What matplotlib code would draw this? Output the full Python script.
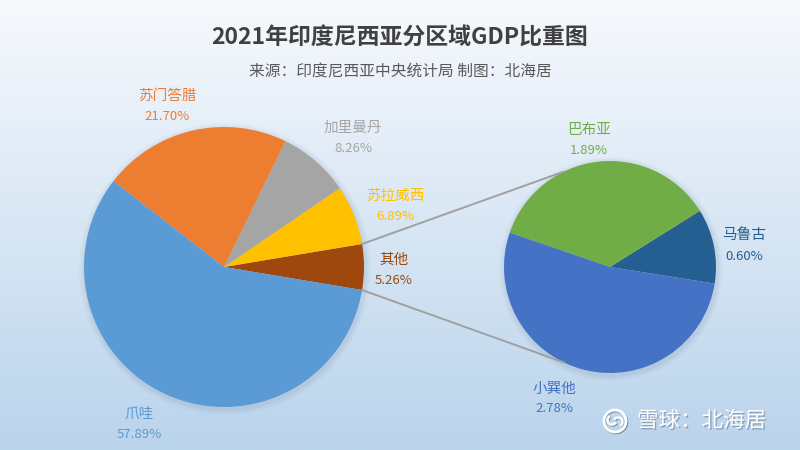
import matplotlib.pyplot as plt
import matplotlib.patheffects as pe
from matplotlib.patches import Circle, Arc
import numpy as np

plt.rcParams['font.family'] = ['Noto Sans CJK SC', 'DejaVu Sans']

# main pie, counterclockwise from the "其他" wedge
main_names = ["其他", "苏拉威西", "加里曼丹", "苏门答腊", "爪哇"]
main_values = [5.26, 6.89, 8.26, 21.70, 57.89]
main_colors = ["#9E480E", "#FFC000", "#A5A5A5", "#ED7D31", "#5B9BD5"]

# breakdown of "其他"
sub_names = ["马鲁古", "巴布亚", "小巽他"]
sub_values = [0.60, 1.89, 2.78]
sub_colors = ["#255E91", "#70AD47", "#4472C4"]

# label centres in pixels (x, y from top)
main_label_pos = [(394, 270), (395, 206), (353, 138), (167, 106), (139, 424)]
sub_label_pos = [(744, 246), (589, 140), (554, 399)]

W, H = 800, 450
fig = plt.figure(figsize=(8, 4.5), dpi=100)
ax = fig.add_axes([0, 0, 1, 1])

# background gradient
top = np.array([0xF7, 0xF9, 0xFD]) / 255
bot = np.array([0xBA, 0xD4, 0xEC]) / 255
t = np.linspace(0, 1, 256)[:, None]
grad = top + (bot - top) * t
ax.imshow(grad[:, None, :], extent=[0, W, 0, H], aspect='auto', zorder=0)

c1, r1 = (224, H - 267), 140
c2, r2 = (610, H - 267), 106

# soft shadows
for c, r in [(c1, r1), (c2, r2)]:
    for k, a in [(6, 0.04), (4, 0.06), (2, 0.08)]:
        ax.add_patch(Circle((c[0] + 1, c[1] - 2), r + k, color="#6b7f99", alpha=a, lw=0, zorder=1))

half = main_values[0] / sum(main_values) * 180
ax.pie(main_values, colors=main_colors, startangle=-half, center=c1, radius=r1,
       wedgeprops=dict(linewidth=0, zorder=2), frame=True)
ax.pie(sub_values, colors=sub_colors, startangle=-9, center=c2, radius=r2,
       wedgeprops=dict(linewidth=0, zorder=2), frame=True)

# connector lines
for s in (1, -1):
    a1 = np.radians(s * half)
    a2 = np.radians(s * 116)
    ax.plot([c1[0] + r1 * np.cos(a1), c2[0] + r2 * np.cos(a2)],
            [c1[1] + r1 * np.sin(a1), c2[1] + r2 * np.sin(a2)],
            color="#A0A0A0", lw=1.4, zorder=3)

def put_labels(names, values, colors, pos):
    for n, v, col, (x, y) in zip(names, values, colors, pos):
        ax.text(x, H - y + 10, n, color=col, fontsize=10.5, ha='center', va='center', zorder=4)
        ax.text(x, H - y - 10, f"{v:.2f}%", color=col, fontsize=9.5, ha='center', va='center', zorder=4)

put_labels(main_names, main_values, main_colors, main_label_pos)
put_labels(sub_names, sub_values, sub_colors, sub_label_pos)

ax.text(W / 2, H - 38, "2021年印度尼西亚分区域GDP比重图", fontsize=16.5, fontweight='bold',
        color="#404040", ha='center', va='center', zorder=4)
ax.text(W / 2, H - 72, "来源：印度尼西亚中央统计局 制图：北海居", fontsize=11.3,
        color="#595959", ha='center', va='center', zorder=4)

# watermark
lx, ly = 615, H - 421
for dx, dy, col in [(1, -1, "#7d90a8"), (0, 0, "white")]:
    ax.add_patch(Circle((lx + dx, ly + dy), 11, fill=False, ec=col, lw=2, zorder=5))
    ax.add_patch(Arc((lx - 3 + dx, ly + 1 + dy), 9, 9, theta1=120, theta2=330, ec=col, lw=1.8, zorder=5))
    ax.add_patch(Arc((lx + 3 + dx, ly - 1 + dy), 9, 9, theta1=-60, theta2=150, ec=col, lw=1.8, zorder=5))
ax.text(637, ly, "雪球：北海居", fontsize=15.5, color="white", ha='left', va='center', zorder=5,
        path_effects=[pe.withSimplePatchShadow(offset=(1, -1), shadow_rgbFace="#6b7f99", alpha=0.6)])

ax.set_xlim(0, W)
ax.set_ylim(0, H)
ax.set_aspect('equal')
ax.axis('off')
fig.savefig("out.png", dpi=100)
